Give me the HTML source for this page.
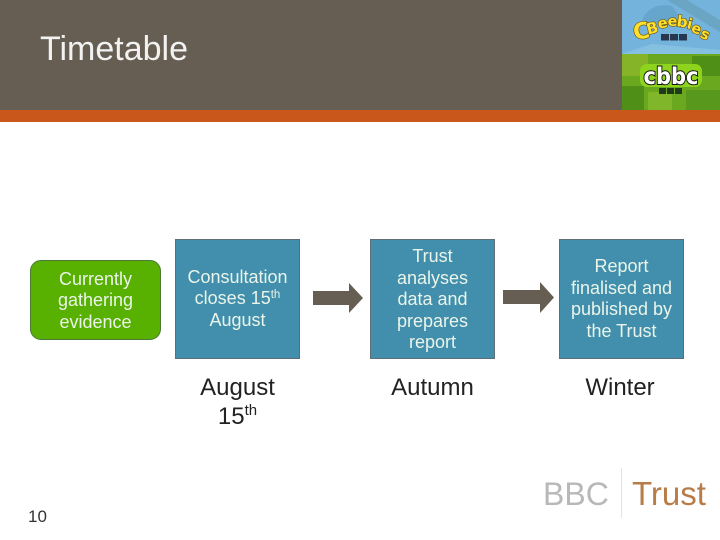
<!DOCTYPE html>
<html><head><meta charset="utf-8"><style>
html,body{margin:0;padding:0}
body{width:720px;height:540px;background:#fff;position:relative;overflow:hidden;font-family:"Liberation Sans",sans-serif}
.a{position:absolute}
.b{position:absolute;box-sizing:border-box;display:flex;align-items:center;justify-content:center;text-align:center;font-size:18px;line-height:21.5px;color:#eaf4ea}
.blue{background:#418fac;border:1px solid #5d6f75;width:125px;height:120px;top:239px}
.c{position:absolute;text-align:center;font-size:24px;line-height:29px;color:#222;top:373px}
sup{font-size:11.5px;line-height:0;vertical-align:baseline;position:relative;top:-6px}
.c sup{font-size:15px;top:-9px}
</style></head><body>
<div class="a" style="left:0;top:0;width:720px;height:110px;background:#665e52"></div>
<div class="a" style="left:0;top:110px;width:720px;height:12px;background:#c9571c"></div>
<div class="a" style="left:40px;top:30px;font-size:34px;line-height:39px;color:#f2f2f2">Timetable</div>

<svg class="a" style="left:622px;top:0" width="98" height="110" viewBox="0 0 98 110">
<rect width="98" height="54" fill="#74b4dc"/>
<path d="M45 0L98 32V20L65 0Z" fill="#6aa6c4"/>
<path d="M20 20Q28 2 50 6L62 22Q40 30 20 20Z" fill="#66a6cc"/>
<path d="M0 54L30 44L98 50V54Z" fill="#86c0e0"/>
<rect y="54" width="98" height="56" fill="#6aa820"/>
<rect x="0" y="54" width="26" height="22" fill="#86b428"/><rect x="70" y="56" width="28" height="20" fill="#4f8f18"/>
<rect x="0" y="86" width="22" height="24" fill="#4f8f18"/><rect x="26" y="92" width="24" height="18" fill="#7fb62a"/><rect x="64" y="90" width="34" height="20" fill="#58981c"/>
<g transform="translate(5.5 3.5) scale(0.9)" font-family="DejaVu Sans,sans-serif" font-weight="700" fill="#ffdf30" stroke="#6a5200" stroke-width="1.4" paint-order="stroke" text-anchor="middle">
<text x="17" y="39" font-size="25" transform="rotate(-10 17 39)">C</text>
<text x="29" y="33" font-size="17" transform="rotate(-14 29 33)">B</text>
<text x="40" y="27" font-size="16" transform="rotate(-10 40 27)">e</text>
<text x="50" y="25" font-size="16">e</text>
<text x="60" y="26" font-size="17" transform="rotate(8 60 26)">b</text>
<text x="68" y="28" font-size="16" transform="rotate(14 68 28)">i</text>
<text x="75" y="33" font-size="16" transform="rotate(20 75 33)">e</text>
<text x="84" y="39" font-size="16" transform="rotate(26 84 39)">s</text>
</g>
<g fill="#27364e"><rect x="39" y="34" width="8" height="6.5"/><rect x="48" y="34" width="8" height="6.5"/><rect x="57" y="34" width="8" height="6.5"/></g>
<rect x="18" y="64" width="62" height="23" rx="7" fill="#8ed41e"/>
<text x="49" y="84" text-anchor="middle" font-family="DejaVu Sans,sans-serif" font-weight="700" font-size="23" fill="#fff" stroke="#111" stroke-width="2" paint-order="stroke" textLength="55" lengthAdjust="spacingAndGlyphs">cbbc</text>
<g fill="#1f3a18"><rect x="37" y="88" width="7" height="6"/><rect x="45" y="88" width="7" height="6"/><rect x="53" y="88" width="7" height="6"/></g>
</svg>

<div class="b" style="left:30px;top:260px;width:131px;height:80px;padding-top:2px;background:#58b000;border:1px solid #4a7a30;border-radius:11px"><div>Currently<br>gathering<br>evidence</div></div>
<div class="b blue" style="left:175px"><div>Consultation<br>closes 15<sup>th</sup><br>August</div></div>
<div class="b blue" style="left:370px;padding-top:2px"><div>Trust<br>analyses<br>data and<br>prepares<br>report</div></div>
<div class="b blue" style="left:559px"><div>Report<br>finalised and<br>published by<br>the Trust</div></div>

<svg class="a" style="left:313px;top:283px" width="50" height="30"><path d="M0 8H36V0L50 15L36 30V22H0Z" fill="#665e52"/></svg>
<svg class="a" style="left:503px;top:282px" width="51" height="31"><path d="M0 8H37V0L51 15.5L37 31V22H0Z" fill="#665e52"/></svg>

<div class="c" style="left:175px;width:125px">August<br>15<sup>th</sup></div>
<div class="c" style="left:370px;width:125px">Autumn</div>
<div class="c" style="left:557.5px;width:125px">Winter</div>

<div class="a" style="left:28px;top:507px;font-size:17px;line-height:20px;color:#333">10</div>

<div class="a" style="left:543px;top:475px;font-size:32px;line-height:38px;color:#b8b8b8">BBC</div>
<div class="a" style="left:621px;top:468px;width:1px;height:50px;background:#e2e2e2"></div>
<div class="a" style="left:632px;top:475px;font-size:33px;line-height:38px;color:#b87c48">Trust</div>
</body></html>
